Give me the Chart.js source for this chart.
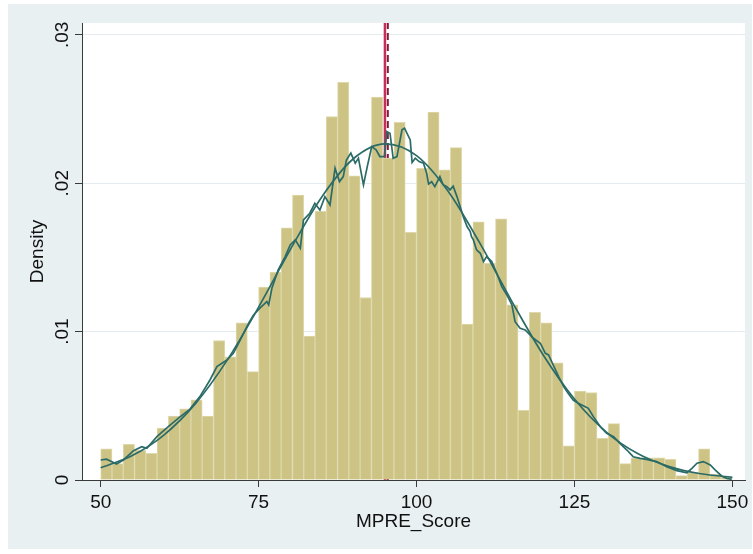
<!DOCTYPE html>
<html>
<head>
<meta charset="utf-8">
<script src="https://cdn.jsdelivr.net/npm/chart.js@4.4.1/dist/chart.umd.min.js"></script>
<style>
  html, body { margin: 0; padding: 0; background: #ffffff; }
  canvas { display: block; }
</style>
</head>
<body>
<canvas id="chart" width="753" height="554"></canvas>
<script>
// Histogram of MPRE_Score: equal-width bins from 50 to 150, density scale
const binStart = 50;
const binEnd = 150;
const binDensity = [
  0.0021, 0.0011, 0.0024, 0.0020, 0.0018, 0.0035, 0.0043, 0.0048, 0.0054, 0.0043,
  0.0094, 0.0083, 0.0106, 0.0073, 0.0130, 0.0140, 0.0170, 0.0192, 0.0097, 0.0181,
  0.0245, 0.0268, 0.0205, 0.0123, 0.0258, 0.0217, 0.0241, 0.0167, 0.0210, 0.0248,
  0.0209, 0.0224, 0.0105, 0.0174, 0.0146, 0.0176, 0.0118, 0.0047, 0.0113, 0.0106,
  0.0079, 0.0023, 0.0060, 0.0059, 0.0028, 0.0038, 0.0011, 0.0015, 0.0015, 0.0015,
  0.0014, 0.0003, 0.0005, 0.0021, 0.0004, 0.0002
];

// Kernel density estimate of the scores
const kernelScore = [
  50.0, 50.9, 51.7, 52.5, 53.6, 55.2, 56.5, 57.3, 58.9, 60.7,
  62.6, 64.1, 65.7, 67.3, 68.4, 69.2, 70.0, 71.0, 72.1, 73.4,
  74.2, 75.2, 76.3, 76.6, 77.1, 78.1, 79.2, 80.0, 80.8, 81.6,
  82.1, 83.1, 83.9, 84.7, 85.5, 86.3, 87.1, 87.8, 88.4, 88.9,
  89.6, 90.3, 90.8, 91.6, 92.2, 92.9, 93.6, 94.2, 94.9, 95.3,
  95.8, 96.3, 96.9, 97.7, 98.1, 99.0, 99.3, 99.8, 100.4, 101.1,
  101.6, 101.9, 102.4, 102.9, 103.7, 104.2, 104.8, 105.3, 105.8, 106.4,
  106.9, 107.4, 108.0, 108.5, 108.7, 109.0, 109.5, 110.1, 110.6, 111.1,
  111.9, 112.7, 113.5, 114.3, 115.1, 115.6, 116.4, 117.2, 118.5, 119.6,
  120.4, 120.9, 121.7, 122.5, 123.3, 124.0, 124.8, 125.6, 126.4, 127.2,
  128.0, 129.1, 130.1, 131.2, 132.2, 133.3, 134.3, 135.4, 136.4, 138.0,
  139.6, 141.2, 142.8, 143.6, 144.4, 145.4, 146.5, 147.3, 148.3, 149.1,
  149.9
];
const kernelDensity = [
  0.00135, 0.00140, 0.00125, 0.00108, 0.00135, 0.00198, 0.00225, 0.00214, 0.00292, 0.00359,
  0.00427, 0.00476, 0.00562, 0.00674, 0.00764, 0.00787, 0.00809, 0.00854, 0.00944, 0.01056,
  0.01112, 0.01158, 0.01202, 0.01180, 0.01292, 0.01416, 0.01506, 0.01584, 0.01618, 0.01562,
  0.01753, 0.01798, 0.01865, 0.01820, 0.01910, 0.01854, 0.02101, 0.02011, 0.02045, 0.02157,
  0.02203, 0.02135, 0.02169, 0.01989, 0.02112, 0.02247, 0.02225, 0.02180, 0.02180, 0.02348,
  0.02337, 0.02169, 0.02180, 0.02360, 0.02371, 0.02292, 0.02140, 0.02169, 0.02146, 0.02135,
  0.02068, 0.01995, 0.02010, 0.01977, 0.02045, 0.01990, 0.01977, 0.01955, 0.01980, 0.01910,
  0.01843, 0.01775, 0.01708, 0.01675, 0.01640, 0.01618, 0.01551, 0.01528, 0.01472, 0.01506,
  0.01472, 0.01393, 0.01303, 0.01247, 0.01180, 0.01067, 0.01023, 0.01011, 0.00955, 0.00922,
  0.00854, 0.00843, 0.00770, 0.00697, 0.00629, 0.00584, 0.00539, 0.00517, 0.00500, 0.00483,
  0.00427, 0.00359, 0.00315, 0.00292, 0.00247, 0.00202, 0.00157, 0.00146, 0.00139, 0.00124,
  0.00090, 0.00063, 0.00049, 0.00079, 0.00113, 0.00124, 0.00101, 0.00067, 0.00027, 0.00011,
  0.00005
];

// Normal density overlay
const normalScore = [50, 55, 60, 65, 70, 75, 80, 85, 90, 95, 100, 105, 110, 115, 120, 125, 130, 135, 140, 145, 150];
const normalDensity = [
  0.000825, 0.001647, 0.00303, 0.005146, 0.00806, 0.01165, 0.01552, 0.01908, 0.02165, 0.02265,
  0.02186, 0.01946, 0.01598, 0.01211, 0.00846, 0.005454, 0.003243, 0.001779, 0.0009, 0.00042,
  0.000181
];

// Vertical reference lines (solid, dashed)
const refLines = [95.0, 95.45];

// Axes
const xTickValues = [50, 75, 100, 125, 150];
const yTickValues = [0, 0.01, 0.02, 0.03];
const yTickLabels = ['0', '.01', '.02', '.03'];
const xTitle = 'MPRE_Score';
const yTitle = 'Density';
const xMin = 47.04, xMax = 152.0;
const yMax = 0.0308;

const FONT = "'Liberation Sans', Arial, Helvetica, sans-serif";
const AXIS = '#3a3a3a';
const TEXT = '#111111';
const LINE = '#2b6b67';

const binWidth = (binEnd - binStart) / binDensity.length;
const barPoints = binDensity.map((d, i) => ({ x: binStart + (i + 0.5) * binWidth, y: d }));
const kernelPoints = kernelScore.map((x, i) => ({ x, y: kernelDensity[i] }));
const normalPoints = normalScore.map((x, i) => ({ x, y: normalDensity[i] }));

// Light graph region with a white plot region on top
const regionPlugin = {
  id: 'region',
  beforeDraw(chart) {
    const { ctx, chartArea: a } = chart;
    ctx.save();
    ctx.fillStyle = '#ffffff';
    ctx.fillRect(0, 0, chart.width, chart.height);
    ctx.fillStyle = '#e9f0f2';
    ctx.fillRect(8, 4, 744, 545);
    ctx.fillStyle = '#ffffff';
    ctx.fillRect(a.left, a.top, a.right - a.left, a.bottom - a.top);
    ctx.restore();
  }
};

// Vertical tick labels on the y axis
const yLabelPlugin = {
  id: 'yLabels',
  afterDraw(chart) {
    const { ctx, scales: { y } } = chart;
    ctx.save();
    ctx.fillStyle = TEXT;
    ctx.font = `19px ${FONT}`;
    ctx.textAlign = 'center';
    ctx.textBaseline = 'middle';
    yTickValues.forEach((v, i) => {
      const py = y.getPixelForValue(v);
      ctx.save();
      ctx.translate(63, py);
      ctx.rotate(-Math.PI / 2);
      ctx.fillText(yTickLabels[i], 0, 0);
      ctx.restore();
    });
    ctx.restore();
  }
};

new Chart(document.getElementById('chart'), {
  type: 'bar',
  data: {
    datasets: [
      {
        type: 'line',
        data: [{ x: refLines[0], y: 0 }, { x: refLines[0], y: yMax }],
        borderColor: '#c42f57',
        borderWidth: 2.5,
        pointRadius: 0,
        order: 4
      },
      {
        type: 'line',
        data: [{ x: refLines[1], y: 0 }, { x: refLines[1], y: yMax }],
        borderColor: '#86163c',
        borderWidth: 2,
        borderDash: [7, 4],
        pointRadius: 0,
        order: 3
      },
      {
        type: 'bar',
        data: barPoints,
        backgroundColor: '#cdc385',
        borderColor: '#ded8aa',
        borderWidth: 1,
        borderSkipped: 'start',
        barPercentage: 1,
        categoryPercentage: 1,
        order: 2
      },
      {
        type: 'line',
        data: kernelPoints,
        borderColor: LINE,
        borderWidth: 1.7,
        pointRadius: 0,
        tension: 0,
        order: 1
      },
      {
        type: 'line',
        data: normalPoints,
        borderColor: LINE,
        borderWidth: 1.7,
        pointRadius: 0,
        cubicInterpolationMode: 'monotone',
        order: 0
      }
    ]
  },
  options: {
    responsive: false,
    animation: false,
    devicePixelRatio: 1,
    layout: { padding: { top: 23, right: 8, left: 0, bottom: 0 } },
    plugins: { legend: { display: false }, tooltip: { enabled: false } },
    scales: {
      x: {
        type: 'linear',
        min: xMin,
        max: xMax,
        offset: false,
        afterBuildTicks: s => { s.ticks = xTickValues.map(v => ({ value: v })); },
        afterFit: s => { s.height = 74; },
        ticks: {
          font: { family: FONT, size: 19 },
          color: TEXT,
          padding: 4,
          maxRotation: 0,
          autoSkip: false,
          callback: v => String(v)
        },
        grid: {
          offset: false,
          drawOnChartArea: false,
          drawTicks: true,
          tickLength: 7,
          tickColor: AXIS,
          color: AXIS
        },
        border: { display: true, color: AXIS, width: 1 },
        title: {
          display: true,
          text: xTitle,
          font: { family: FONT, size: 19 },
          color: TEXT,
          padding: { top: 0, bottom: 20.9 }
        }
      },
      y: {
        type: 'linear',
        min: 0,
        max: yMax,
        afterBuildTicks: s => { s.ticks = yTickValues.map(v => ({ value: v })); },
        afterFit: s => { s.width = 82; },
        ticks: { display: false },
        grid: {
          color: c => (c.tick && c.tick.value === 0) ? 'rgba(0,0,0,0)' : '#e3ebee',
          lineWidth: 1,
          drawTicks: true,
          tickLength: 7,
          tickColor: AXIS
        },
        border: { display: true, color: AXIS, width: 1 },
        title: {
          display: true,
          text: yTitle,
          font: { family: FONT, size: 19 },
          color: TEXT,
          padding: { top: 25.9, bottom: 0 }
        }
      }
    }
  },
  plugins: [regionPlugin, yLabelPlugin]
});
</script>
</body>
</html>
